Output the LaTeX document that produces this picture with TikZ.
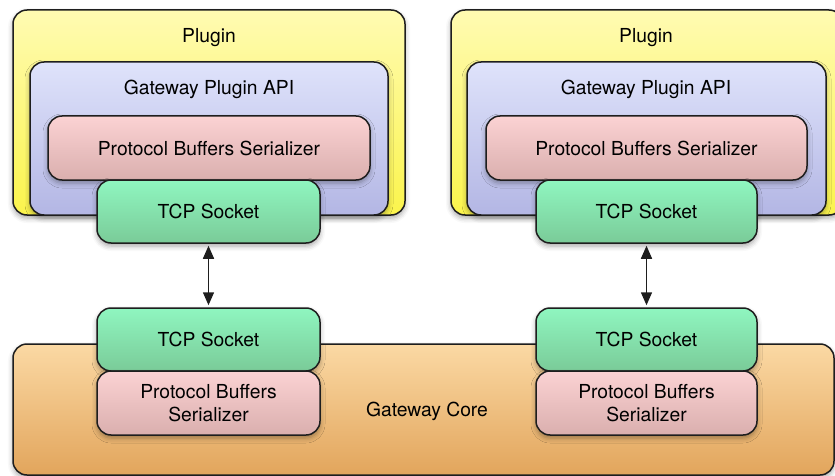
\documentclass[tikz,border=0pt]{standalone}
\usepackage{fontspec}
\setmainfont{TeX Gyre Heros}
\usetikzlibrary{shadows.blur,arrows.meta}
\definecolor{ylwT}{HTML}{FFFBB2}
\definecolor{ylwB}{HTML}{FBF44C}
\definecolor{apiT}{HTML}{DFE3FB}
\definecolor{apiB}{HTML}{B3B6E4}
\definecolor{pbT}{HTML}{FBD2D3}
\definecolor{pbB}{HTML}{DAAFAE}
\definecolor{tcpT}{HTML}{8FF6C0}
\definecolor{tcpB}{HTML}{7ACB98}
\definecolor{corT}{HTML}{FBD9A4}
\definecolor{corB}{HTML}{E2A55C}
\definecolor{edge}{HTML}{1E1E1E}
\tikzset{
  box/.style={draw=edge, line width=1.5pt, rounded corners=14pt, inner sep=0pt,
    blur shadow={shadow xshift=0pt, shadow yshift=-3pt, shadow blur radius=5pt, shadow opacity=35}},
  plugbox/.style={box, top color=ylwT, bottom color=ylwB},
  apibox/.style={box, top color=apiT, bottom color=apiB},
  pbbox/.style={box, top color=pbT, bottom color=pbB, align=center},
  tcpbox/.style={box, top color=tcpT, bottom color=tcpB},
  corebox/.style={box, top color=corT, bottom color=corB},
  lbl/.style={inner sep=0pt},
  link/.style={line width=1.5pt, draw=edge, {Triangle[length=13pt,width=11pt]}-{Triangle[length=13pt,width=11pt]}, shorten <=2pt, shorten >=2pt}
}
\begin{document}
\begin{tikzpicture}[x=1pt,y=-1pt, font=\fontsize{19.3}{22.5}\selectfont]
\useasboundingbox (0,0) rectangle (835,476);
% bottom core
\node[corebox, minimum width=821pt, minimum height=131pt] (core) at (423.5,409.5) {};
\node[lbl] (coret) at (427,411) {Gateway Core};
% left plugin
\node[plugbox, minimum width=392pt, minimum height=205pt] (plugL) at (209,112.5) {};
\node[lbl] (plugLt) at (209,38) {Plugin};
\node[apibox, minimum width=358pt, minimum height=153pt] (apiL) at (209,138.5) {};
\node[lbl] (apiLt) at (209,89.5) {Gateway Plugin API};
\node[pbbox, minimum width=322pt, minimum height=64pt] (pbL) at (209,148) {Protocol Buffers Serializer};
\node[tcpbox, minimum width=223pt, minimum height=63pt] (tcpL) at (208.5,211.5) {TCP Socket};
% right plugin
\node[plugbox, minimum width=392pt, minimum height=205pt] (plugR) at (647,112.5) {};
\node[lbl] (plugRt) at (646,38) {Plugin};
\node[apibox, minimum width=359pt, minimum height=153pt] (apiR) at (646.5,138.5) {};
\node[lbl] (apiRt) at (646,89.5) {Gateway Plugin API};
\node[pbbox, minimum width=321pt, minimum height=64pt] (pbR) at (646.5,148) {Protocol Buffers Serializer};
\node[tcpbox, minimum width=221pt, minimum height=63pt] (tcpR) at (646.5,211.5) {TCP Socket};
% bottom components
\node[tcpbox, minimum width=223pt, minimum height=63pt] (tcpBL) at (208.5,339.5) {TCP Socket};
\node[pbbox, minimum width=223pt, minimum height=64pt] (pbBL) at (208.5,403) {Protocol Buffers\\Serializer};
\node[tcpbox, minimum width=221pt, minimum height=63pt] (tcpBR) at (646.5,339.5) {TCP Socket};
\node[pbbox, minimum width=221pt, minimum height=64pt] (pbBR) at (646.5,403) {Protocol Buffers\\Serializer};
% links
\draw[link] (tcpL.south) -- (tcpBL.north);
\draw[link] (tcpR.south) -- (tcpBR.north);
\end{tikzpicture}
\end{document}
